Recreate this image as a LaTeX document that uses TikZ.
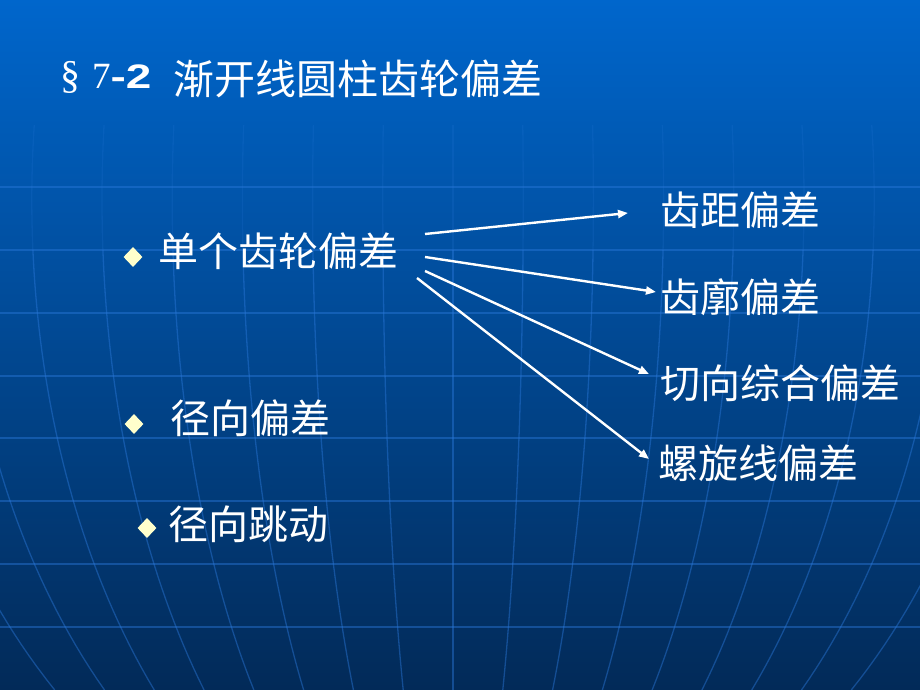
\documentclass[tikz,border=0pt]{standalone}
\usepackage{fontspec}
\usepackage{graphicx}
\setmainfont{Liberation Serif}
\newfontfamily\cjk{Noto Sans CJK SC}
\newfontfamily\arialfont{Liberation Sans}
\usetikzlibrary{arrows.meta,shapes.geometric}
\definecolor{bgtop}{HTML}{0066CC}
\definecolor{bgmid}{HTML}{034FA6}
\definecolor{bgbottom}{HTML}{022A58}
\definecolor{gridblue}{HTML}{2A78DA}
\definecolor{bulletyellow}{HTML}{FFFFCC}
\tikzset{
  item/.style={anchor=west, inner sep=0pt, text=white, font=\cjk\fontsize{40}{48}\selectfont},
  bullet/.style={diamond, fill=bulletyellow, inner sep=0pt, minimum width=19pt, minimum height=20pt},
  arrow/.style={white, line width=2.4pt, -{Triangle[length=10pt,width=8pt]}},
  gridline/.style={gridblue, line width=1.3pt, opacity=0.45},
}
\begin{document}
\begin{tikzpicture}[x=1pt,y=-1pt]
        \useasboundingbox (0,0) rectangle (920,690);
        % background of the slide
        \shade[top color=bgtop, middle color=bgmid, bottom color=bgbottom] (0,0) rectangle (920,690);
        % drawing the parallels of the globe
        \foreach \y in {187,250,313,376,438,501,564,627}
          \draw[gridline] (0,\y) -- (920,\y);
        % drawing the meridians of the globe
        \foreach \k in {-8,...,8}{
          \draw[gridline, opacity=0.18] plot[domain=125:250, samples=15]
            ({453+70.2*(\k)*sqrt(1-((\x-200)/695)^2)}, \x);
          \draw[gridline] plot[domain=250:690, samples=40]
            ({453+70.2*(\k)*sqrt(1-((\x-200)/695)^2)}, \x);
        }
        % title
        \node[anchor=base west, inner sep=0pt, text=white] (number) at (60,89)
          {\fontsize{40}{44}\selectfont §\hspace{12pt}\fontsize{37}{44}\selectfont 7\arialfont\bfseries\fontsize{34}{40}\selectfont\scalebox{1.35}[1]{-2}};
        \node[anchor=west, inner sep=0pt, text=white, font=\cjk\fontsize{41}{50}\selectfont] (title) at (173,79)
          {渐开线圆柱齿轮偏差};
        % bullets
        \node[bullet] (b1) at (133,257) {};
        \node[bullet] (b2) at (134,424) {};
        \node[bullet] (b3) at (147,528) {};
        % items
        \node[item] (single)     at (158,251) {单个齿轮偏差};
        \node[item] (radial)     at (170,418) {径向偏差};
        \node[item] (runout)     at (168,524) {径向跳动};
        \node[item] (pitch)      at (660,210) {齿距偏差};
        \node[item] (profile)    at (660,297) {齿廓偏差};
        \node[item] (tangential) at (660,383) {切向综合偏差};
        \node[item] (helix)      at (658,463) {螺旋线偏差};
        % coordinates for the arrows
        \coordinate (s1) at (425,234);
        \coordinate (s2) at (425,257);
        \coordinate (s3) at (425,271);
        \coordinate (s4) at (417,278);
        \coordinate (e1) at (628,213);
        \coordinate (e2) at (656,292);
        \coordinate (e3) at (649,374);
        \coordinate (e4) at (649,459);
        % drawing the arrows
        \draw[arrow] (s1) -- (e1);
        \draw[arrow] (s2) -- (e2);
        \draw[arrow] (s3) -- (e3);
        \draw[arrow] (s4) -- (e4);
      \end{tikzpicture}
\end{document}
